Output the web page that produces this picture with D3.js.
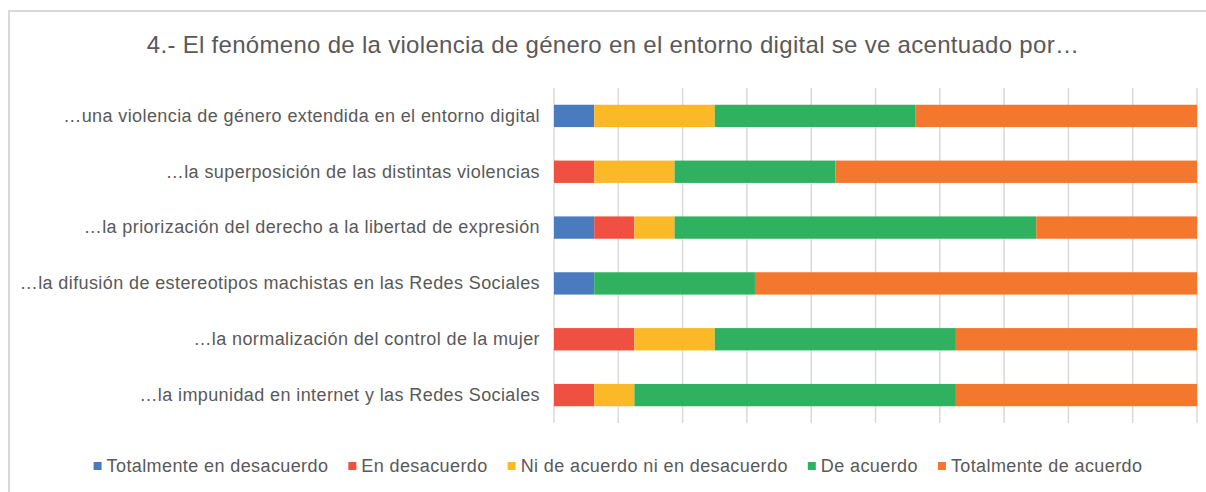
<!DOCTYPE html>
<html>
<head>
<meta charset="utf-8">
<script src="https://cdn.jsdelivr.net/npm/d3@7"></script>
<style>
  html, body { margin: 0; padding: 0; background: #ffffff; }
  svg { display: block; font-family: "Liberation Sans", Arial, sans-serif; }
</style>
</head>
<body>
<svg id="chart" width="1206" height="492"></svg>
<script>
const title = "4.- El fenómeno de la violencia de género en el entorno digital se ve acentuado por…";
const categories = [
  "…una violencia de género extendida en el entorno digital",
  "…la superposición de las distintas violencias",
  "…la priorización del derecho a la libertad de expresión",
  "…la difusión de estereotipos machistas en las Redes Sociales",
  "…la normalización del control de la mujer",
  "…la impunidad en internet y las Redes Sociales"
];
const seriesNames = ["Totalmente en desacuerdo", "En desacuerdo", "Ni de acuerdo ni en desacuerdo", "De acuerdo", "Totalmente de acuerdo"];
const seriesColors = ["#4a7bbf", "#ef5041", "#fbb928", "#30b160", "#f4772e"];
// percentages per category (same order as categories)
const totalmenteDesacuerdo = [6.25, 0, 6.25, 6.25, 0, 0];
const enDesacuerdo        = [0, 6.25, 6.25, 0, 12.5, 6.25];
const niAcuerdoNiDesac    = [18.75, 12.5, 6.25, 0, 12.5, 6.25];
const deAcuerdo           = [31.25, 25, 56.25, 25, 37.5, 50];
const totalmenteAcuerdo   = [43.75, 56.25, 25, 68.75, 37.5, 37.5];
const xTicks = [0, 10, 20, 30, 40, 50, 60, 70, 80, 90, 100];

const seriesValues = [totalmenteDesacuerdo, enDesacuerdo, niAcuerdoNiDesac, deAcuerdo, totalmenteAcuerdo];
const rows = categories.map((c, i) => {
  const r = { cat: c };
  seriesNames.forEach((s, j) => r[s] = seriesValues[j][i]);
  return r;
});

const svg = d3.select("#chart");
svg.append("rect").attr("width", 1206).attr("height", 492).attr("fill", "#ffffff");
// chart border (only left and top visible)
svg.append("path").attr("d", "M9,492 V11 H1206").attr("fill", "none")
  .attr("stroke", "#d9d9d9").attr("stroke-width", 2);

const x = d3.scaleLinear().domain([0, 100]).range([554, 1197]);
const y = d3.scaleBand().domain(categories).range([88, 423]).paddingInner(0.6).paddingOuter(0.3);

// gridlines
svg.append("g").selectAll("line").data(xTicks).join("line")
  .attr("x1", d => x(d)).attr("x2", d => x(d))
  .attr("y1", 88).attr("y2", 423)
  .attr("stroke", "#d9d9d9").attr("stroke-width", 1.5);

const stack = d3.stack().keys(seriesNames);
const stacked = stack(rows);
svg.append("g").selectAll("g").data(stacked).join("g")
  .attr("fill", (d, i) => seriesColors[i])
  .selectAll("rect").data(d => d).join("rect")
  .attr("x", d => x(d[0]))
  .attr("width", d => x(d[1]) - x(d[0]))
  .attr("y", d => y(d.data.cat))
  .attr("height", y.bandwidth());

// category axis
const yAxis = svg.append("g").attr("transform", "translate(554,0)")
  .call(d3.axisLeft(y).tickSize(0).tickPadding(14));
yAxis.select(".domain").remove();
yAxis.selectAll("text").attr("fill", "#595959").style("font-size", "18px")
  .style("letter-spacing", "0.4px")
  .style("font-family", "'Liberation Sans', Arial, sans-serif");

// title
svg.append("text").attr("x", 613).attr("y", 53).attr("text-anchor", "middle")
  .attr("fill", "#595959").style("font-size", "24px").style("letter-spacing", "0.3px").text(title);

// legend
const legend = svg.append("g");
const items = legend.selectAll("g").data(seriesNames).join("g");
items.append("rect").attr("width", 8).attr("height", 8).attr("y", -4)
  .attr("fill", (d, i) => seriesColors[i]);
items.append("text").attr("x", 13).attr("dy", "0.35em")
  .attr("fill", "#595959").style("font-size", "18px").style("letter-spacing", "0.4px").text(d => d);
let widths = [];
items.each(function() { widths.push(this.getBBox().width); });
const gap = 20;
const total = d3.sum(widths) + gap * (widths.length - 1);
let cx = 618 - total / 2;
items.attr("transform", (d, i) => {
  const t = `translate(${cx},466)`;
  cx += widths[i] + gap;
  return t;
});
</script>
</body>
</html>
